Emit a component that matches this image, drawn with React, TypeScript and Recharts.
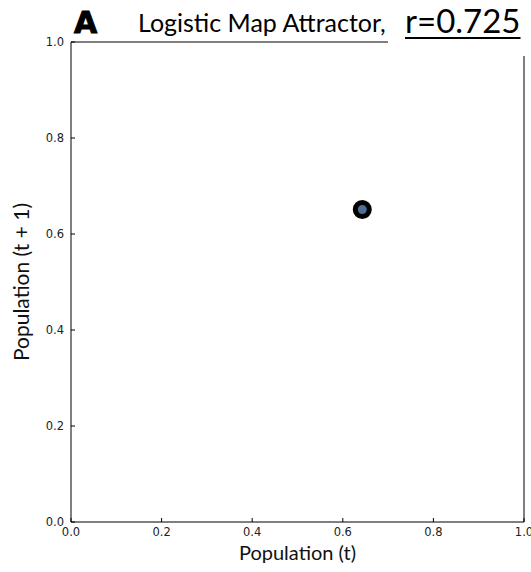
import { ScatterChart, Scatter, XAxis, YAxis, ReferenceLine } from "recharts";

// attractor point(s): population at t and t+1
const popT = [0.643];
const popT1 = [0.651];
const ticks = [0, 0.2, 0.4, 0.6, 0.8, 1.0];
const tickLabels = ["0.0", "0.2", "0.4", "0.6", "0.8", "1.0"];

const points = popT.map((x, i) => ({ x, y: popT1[i] }));

const TICK_FONT = "'DejaVu Sans', sans-serif";
const TITLE_FONT = "Lato, 'Open Sans', sans-serif";

function label(v: number) {
  const i = ticks.indexOf(v);
  return i >= 0 ? tickLabels[i] : String(v);
}

function BottomTick(props: any) {
  const { x, y, payload } = props;
  return (
    <g>
      <line x1={x} x2={x} y1={y} y2={y - 4} stroke="#000" />
      <text x={x} y={y + 14} textAnchor="middle" fontSize={11.5} fill="#222" fontFamily={TICK_FONT}>
        {label(payload.value)}
      </text>
    </g>
  );
}

function LeftTick(props: any) {
  const { x, y, payload } = props;
  return (
    <g>
      <line x1={x} x2={x + 4} y1={y} y2={y} stroke="#000" />
      <text x={x - 7} y={y + 4} textAnchor="end" fontSize={11.5} fill="#222" fontFamily={TICK_FONT}>
        {label(payload.value)}
      </text>
    </g>
  );
}

function TopTick(props: any) {
  const { x, y } = props;
  return <line x1={x} x2={x} y1={y} y2={y + 4} stroke="#000" />;
}

function RightTick(props: any) {
  const { x, y } = props;
  return <line x1={x} x2={x - 4} y1={y} y2={y} stroke="#000" />;
}

export default function App() {
  return (
    <div style={{ position: "absolute", left: 0, top: 0, width: 531, height: 572, background: "#fff", overflow: "hidden" }}>
      <ScatterChart width={531} height={572} margin={{ top: 42, right: 7, left: 0, bottom: 0 }} style={{ overflow: "hidden" }}>
        <XAxis
          dataKey="x"
          type="number"
          domain={[0, 1]}
          ticks={ticks}
          height={50}
          tickSize={0}
          tickMargin={0}
          tick={<BottomTick />}
          axisLine={{ stroke: "#000" }}
          label={{ value: "Population (t)", position: "insideBottom", offset: 12, fontSize: 20, fill: "#111", fontFamily: TITLE_FONT }}
        />
        <YAxis
          dataKey="y"
          type="number"
          domain={[0, 1]}
          ticks={ticks}
          width={71}
          tickSize={0}
          tickMargin={0}
          tick={<LeftTick />}
          axisLine={{ stroke: "#000" }}
          label={{ value: "Population (t + 1)", angle: -90, position: "insideLeft", offset: 22, fontSize: 21, fill: "#111", fontFamily: TITLE_FONT, style: { textAnchor: "middle" } }}
        />
        <XAxis xAxisId="top" orientation="top" type="number" domain={[0, 1]} ticks={ticks} height={0} tickSize={0} tick={<TopTick />} axisLine={false} />
        <YAxis yAxisId="right" orientation="right" type="number" domain={[0, 1]} ticks={ticks} width={0} tickSize={0} tick={<RightTick />} axisLine={false} />
        <ReferenceLine y={1} stroke="#000" />
        <ReferenceLine x={1} stroke="#000" />
        <Scatter
          data={points}
          fill="#4f6d96"
          stroke="#000"
          strokeWidth={5}
          isAnimationActive={false}
          shape={(p: any) => <circle cx={p.cx} cy={p.cy} r={7} fill="#4f6d96" stroke="#000" strokeWidth={5} />}
        />
      </ScatterChart>
      <div style={{ position: "absolute", left: 388, top: 0, width: 143, height: 56, background: "#fff" }} />
      <div style={{ position: "absolute", left: 74, top: 5, fontFamily: "'DejaVu Sans', sans-serif", fontWeight: 700, fontSize: 30, color: "#000", lineHeight: "36px", WebkitTextStroke: "1px #000" }}>
        A
      </div>
      <div style={{ position: "absolute", left: 138, top: 6, fontFamily: TITLE_FONT, fontSize: 25, color: "#000", lineHeight: "32px", whiteSpace: "nowrap" }}>
        Logistic Map Attractor,
      </div>
      <div style={{ position: "absolute", left: 405, top: 1, fontFamily: TITLE_FONT, fontSize: 33, color: "#000", lineHeight: "38px", whiteSpace: "nowrap", textDecoration: "underline", textDecorationThickness: 2, textUnderlineOffset: 4 }}>
        r=0.725
      </div>
    </div>
  );
}
